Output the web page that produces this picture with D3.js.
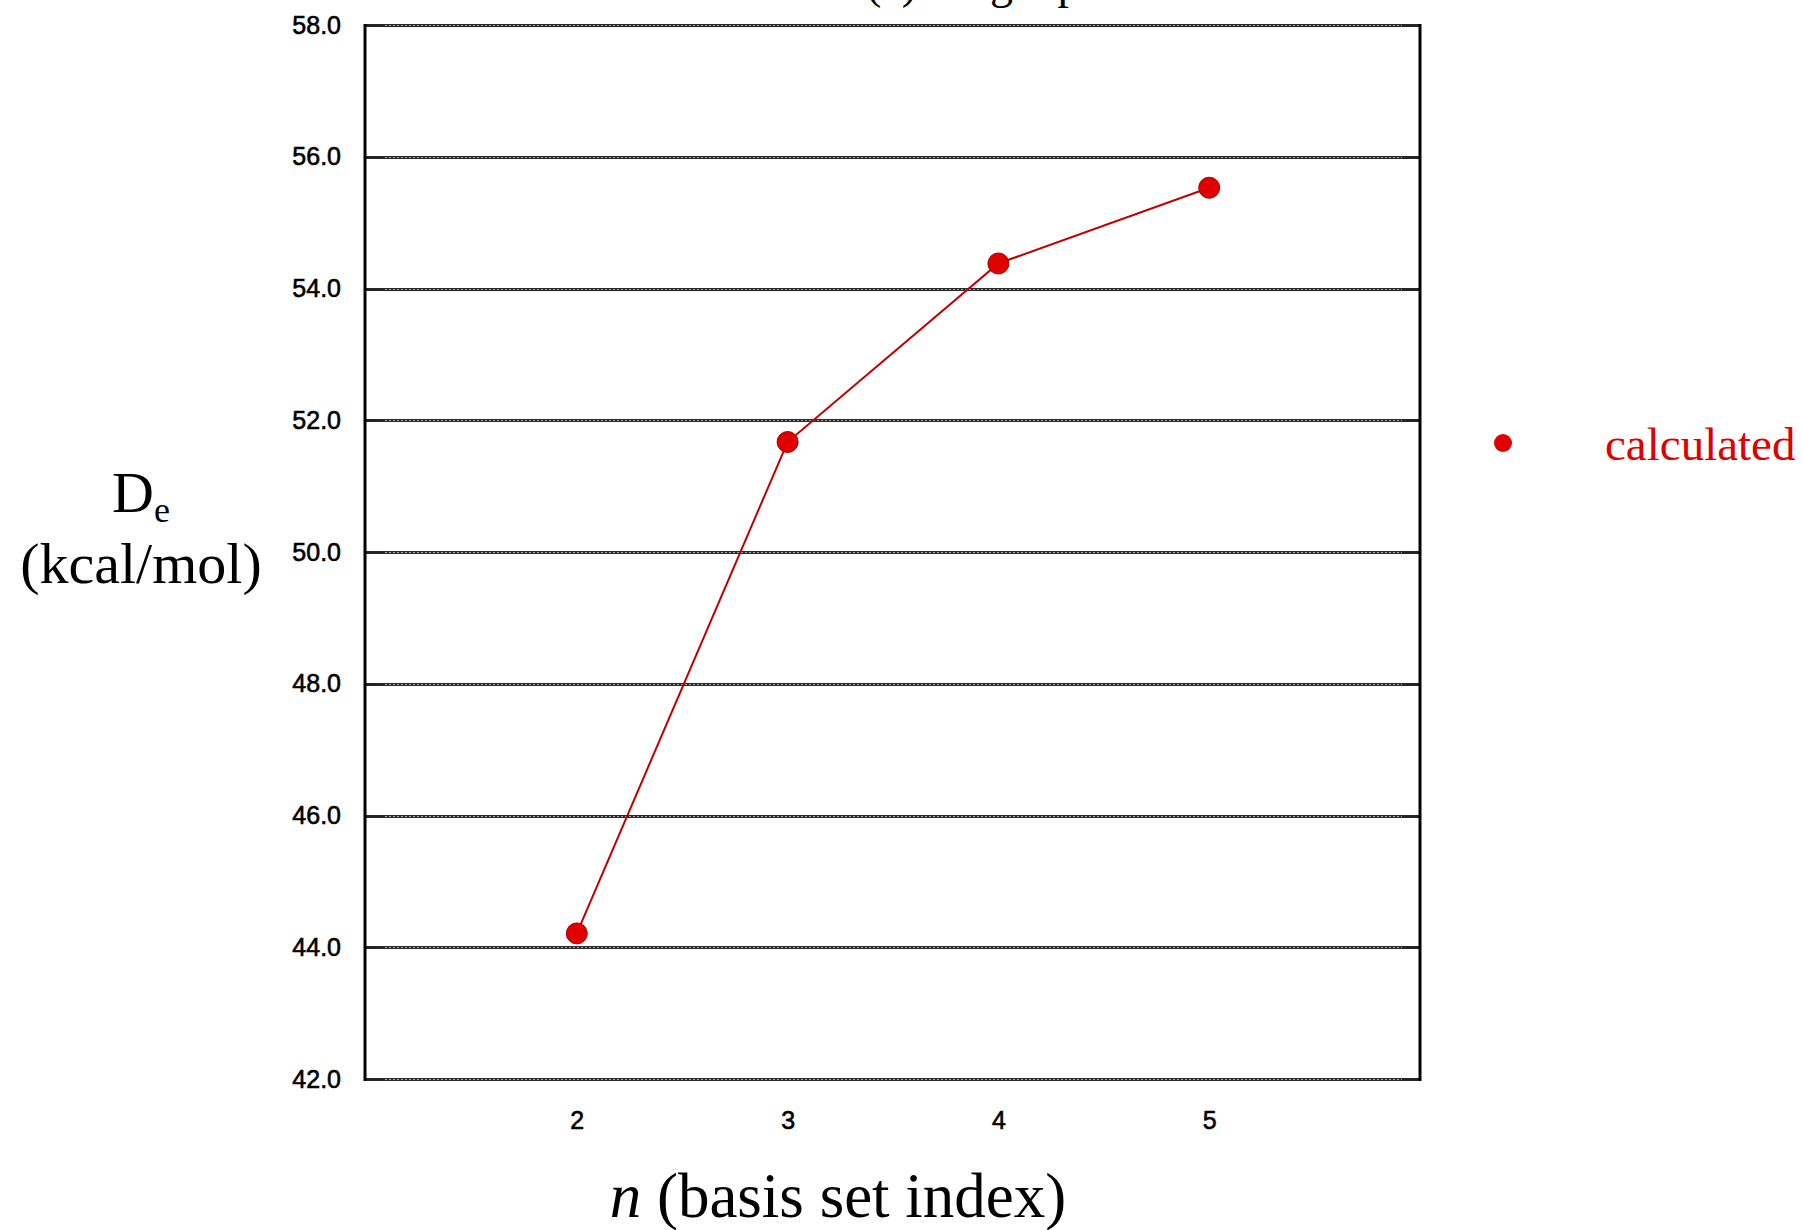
<!DOCTYPE html>
<html>
<head>
<meta charset="utf-8">
<script src="https://cdn.jsdelivr.net/npm/d3@7/dist/d3.min.js"></script>
<style>
  html, body { margin: 0; padding: 0; background: #fff; }
  svg { display: block; }
</style>
</head>
<body>
<svg id="chart" width="1803" height="1230"></svg>
<script>
// ---- data ----
const basisIndex = [2, 3, 4, 5];
const deValues = [44.21, 51.67, 54.38, 55.53];
const yTicks = [42, 44, 46, 48, 50, 52, 54, 56, 58];
const xTicks = [2, 3, 4, 5];
const seriesName = "calculated";
const titleText = "(a) Single point";

// ---- layout ----
const svg = d3.select("#chart");
const plotL = 365, plotR = 1420, plotT = 25, plotB = 1079;
const x = d3.scaleLinear().domain([1, 6]).range([plotL + 1, plotR]);
const y = d3.scaleLinear().domain([42, 58]).range([plotB, plotT]);

// clipped title at top (only descenders visible, as in the reference)
svg.append("text")
  .attr("x", 866).attr("y", -2)
  .attr("font-family", "'Liberation Serif', 'Times New Roman', serif")
  .attr("font-size", 46)
  .attr("fill", "#000")
  .text(titleText);

// gridlines (rail-like pattern)
const grid = svg.append("g");
yTicks.forEach(v => {
  const yy = Math.round(y(v)) + 0.5;
  grid.append("line").attr("x1", plotL).attr("x2", plotR)
    .attr("y1", yy).attr("y2", yy)
    .attr("stroke", "#2a2a2a").attr("stroke-width", 3);
  grid.append("line").attr("x1", plotL).attr("x2", plotR)
    .attr("y1", yy).attr("y2", yy)
    .attr("stroke", "#aaa").attr("stroke-width", 1)
    .attr("stroke-dasharray", "2,2");
  grid.append("line").attr("x1", plotL).attr("x2", plotL + 18)
    .attr("y1", yy).attr("y2", yy)
    .attr("stroke", "#222").attr("stroke-width", 2);
  grid.append("line").attr("x1", plotR - 18).attr("x2", plotR)
    .attr("y1", yy).attr("y2", yy)
    .attr("stroke", "#222").attr("stroke-width", 2);
});

// left and right borders
svg.append("line").attr("x1", plotL).attr("x2", plotL)
  .attr("y1", plotT - 1).attr("y2", plotB + 2)
  .attr("stroke", "#000").attr("stroke-width", 3);
svg.append("line").attr("x1", plotR).attr("x2", plotR)
  .attr("y1", plotT - 1).attr("y2", plotB + 2)
  .attr("stroke", "#000").attr("stroke-width", 3);

// y axis tick labels
const yAxis = d3.axisLeft(y).tickValues(yTicks).tickFormat(d3.format(".1f")).tickSize(0).tickPadding(24);
const gy = svg.append("g").attr("transform", `translate(${plotL},0)`).call(yAxis);
gy.select(".domain").remove();
gy.selectAll("text")
  .attr("font-family", "'Liberation Sans', Arial, sans-serif")
  .attr("font-size", 25)
  .attr("fill", "#000")
  .attr("stroke", "#000").attr("stroke-width", 0.6);

// x axis tick labels
const xAxis = d3.axisBottom(x).tickValues(xTicks).tickFormat(d3.format("d")).tickSize(0).tickPadding(32);
const gx = svg.append("g").attr("transform", `translate(0,${plotB})`).call(xAxis);
gx.select(".domain").remove();
gx.selectAll("text")
  .attr("font-family", "'Liberation Sans', Arial, sans-serif")
  .attr("font-size", 25)
  .attr("fill", "#000")
  .attr("stroke", "#000").attr("stroke-width", 0.6);

// series line
const pts = basisIndex.map((n, i) => ({ n, v: deValues[i] }));
svg.append("path")
  .datum(pts)
  .attr("fill", "none")
  .attr("stroke", "#c00000")
  .attr("stroke-width", 2)
  .attr("d", d3.line().x(d => x(d.n)).y(d => y(d.v)));

// markers
svg.append("g").selectAll("circle").data(pts).join("circle")
  .attr("cx", d => x(d.n)).attr("cy", d => y(d.v))
  .attr("r", 10.5)
  .attr("fill", "#e00000")
  .attr("stroke", "#a00000").attr("stroke-width", 1);

// legend
svg.append("circle").attr("cx", 1503).attr("cy", 443).attr("r", 9)
  .attr("fill", "#e00000");
svg.append("text").attr("x", 1605).attr("y", 460)
  .attr("font-family", "'Liberation Serif', 'Times New Roman', serif")
  .attr("font-size", 47)
  .attr("fill", "#e00000")
  .text(seriesName);

// y axis label
const yl = svg.append("text")
  .attr("x", 141).attr("y", 512)
  .attr("text-anchor", "middle")
  .attr("font-family", "'Liberation Serif', 'Times New Roman', serif")
  .attr("font-size", 58)
  .attr("fill", "#000");
yl.append("tspan").text("D");
yl.append("tspan").attr("font-size", 36).attr("dy", 10).text("e");
svg.append("text")
  .attr("x", 141).attr("y", 583)
  .attr("text-anchor", "middle")
  .attr("font-family", "'Liberation Serif', 'Times New Roman', serif")
  .attr("font-size", 58)
  .attr("fill", "#000")
  .text("(kcal/mol)");

// x axis label
const xl = svg.append("text")
  .attr("x", 838).attr("y", 1217)
  .attr("text-anchor", "middle")
  .attr("font-family", "'Liberation Serif', 'Times New Roman', serif")
  .attr("font-size", 63)
  .attr("fill", "#000");
xl.append("tspan").attr("font-style", "italic").text("n");
xl.append("tspan").text(" (basis set index)");
</script>
</body>
</html>
